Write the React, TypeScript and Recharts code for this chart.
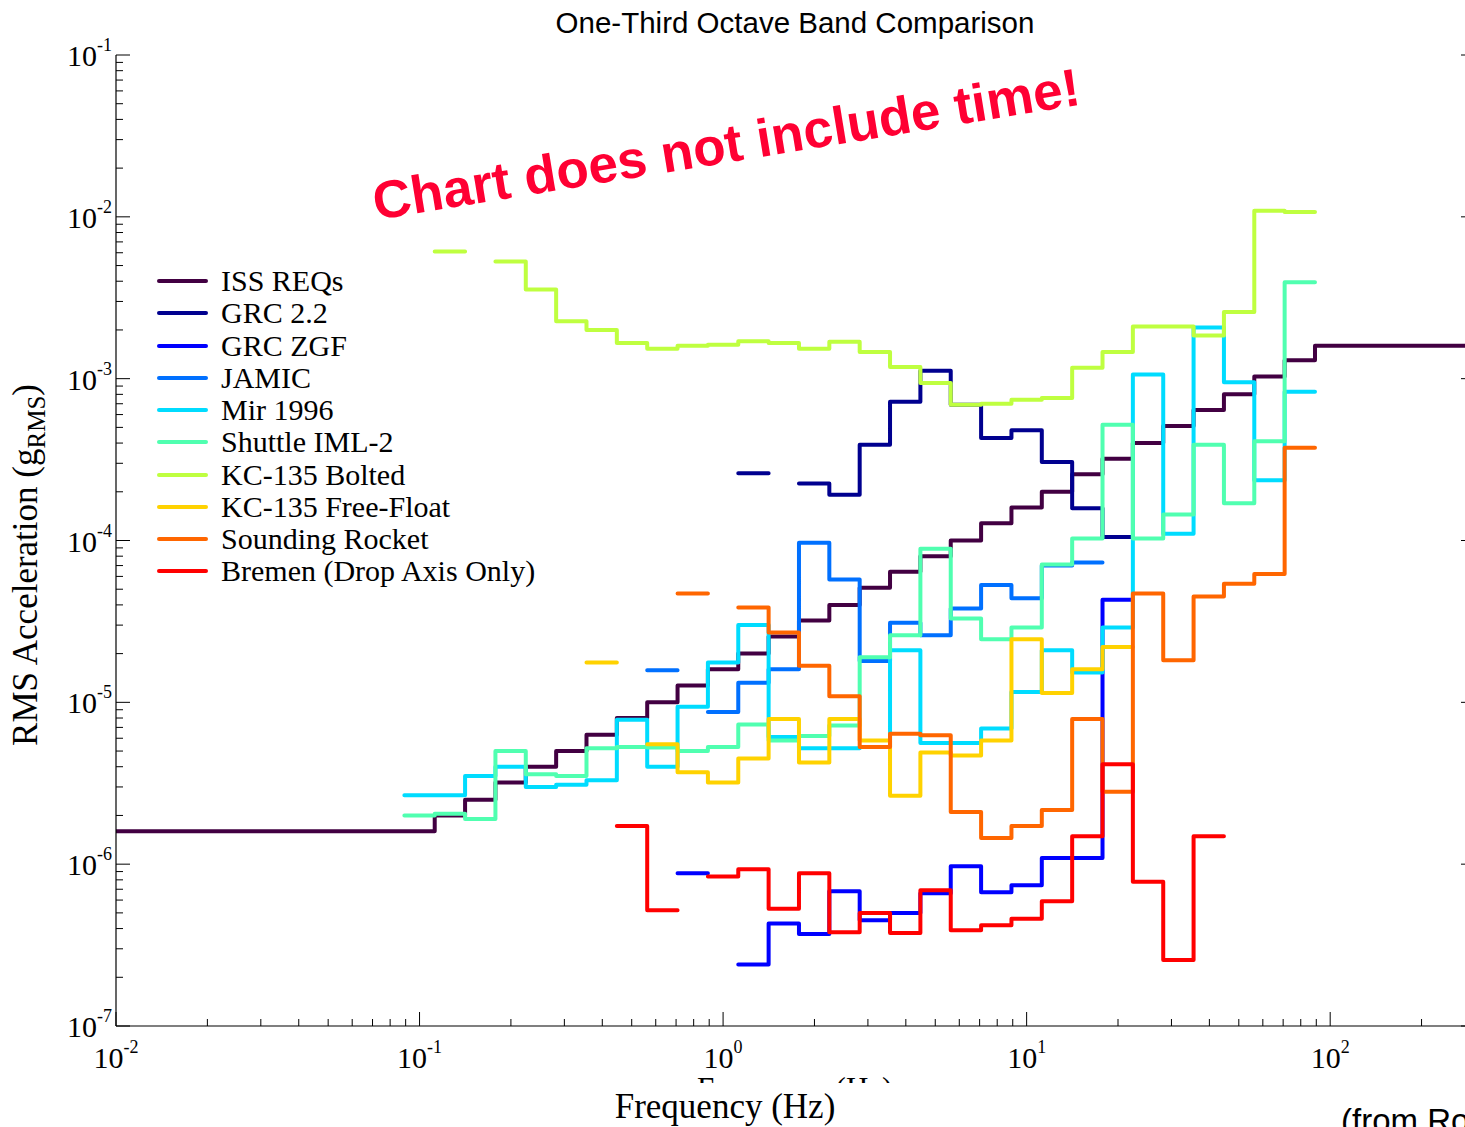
import React from "react";
import { LineChart, Line, XAxis, YAxis } from "recharts";

// One-third octave bands (nominal centre frequencies, Hz)
const BAND_CENTERS_HZ = [
  0.1, 0.125, 0.16, 0.2, 0.25, 0.315, 0.4, 0.5, 0.63, 0.8,
  1, 1.25, 1.6, 2, 2.5, 3.15, 4, 5, 6.3, 8,
  10, 12.5, 16, 20, 25, 31.5, 40, 50, 63, 80,
];
const FIRST_BAND_NUMBER = -10; // band n has centre 10^(n/10)

const X_MIN = 0.01;
const X_MAX = 300;
const Y_MIN = 1e-7;
const Y_MAX = 1e-1;
const X_DECADES = [0.01, 0.1, 1, 10, 100];
const Y_DECADES = [1e-7, 1e-6, 1e-5, 1e-4, 1e-3, 1e-2, 1e-1];
const MINOR_STEPS = [1, 2, 3, 4, 5, 6, 7, 8, 9];

type V = number | null;

// RMS acceleration per band (g_RMS); null = no data in band
const ISS_REQS: V[] = [
  1.6e-6, 2.0e-6, 2.5e-6, 3.2e-6, 4.0e-6, 5.0e-6, 6.3e-6, 8.0e-6, 1.0e-5, 1.27e-5,
  1.6e-5, 2.0e-5, 2.55e-5, 3.2e-5, 4.0e-5, 5.1e-5, 6.4e-5, 8.0e-5, 1.0e-4, 1.28e-4,
  1.6e-4, 2.0e-4, 2.57e-4, 3.2e-4, 4.0e-4, 5.1e-4, 6.4e-4, 8.0e-4, 1.03e-3, 1.3e-3,
];
const ISS_BELOW_BANDS = 1.6e-6;
const ISS_ABOVE_BANDS = 1.6e-3;

const GRC_22: V[] = [
  null, null, null, null, null, null, null, null, null, null,
  null, 2.6e-4, null, 2.25e-4, 1.92e-4, 3.9e-4, 7.2e-4, 1.12e-3, 6.9e-4, 4.3e-4,
  4.8e-4, 3.05e-4, 1.58e-4, 1.05e-4, null, null, null, null, null, null,
];
const GRC_ZGF: V[] = [
  null, null, null, null, null, null, null, null, null, 8.8e-7,
  null, 2.4e-7, 4.3e-7, 3.7e-7, 6.8e-7, 4.5e-7, 5.0e-7, 6.6e-7, 9.7e-7, 6.7e-7,
  7.4e-7, 1.09e-6, 1.09e-6, 4.3e-5, null, null, null, null, null, null,
];
const JAMIC: V[] = [
  null, null, null, null, null, null, null, null, 1.58e-5, null,
  8.7e-6, 1.32e-5, 1.6e-5, 9.7e-5, 5.75e-5, 1.8e-5, 3.1e-5, 2.6e-5, 3.8e-5, 5.3e-5,
  4.4e-5, 7.0e-5, 7.3e-5, null, null, null, null, null, null, null,
];
const MIR_1996: V[] = [
  2.67e-6, 2.67e-6, 3.5e-6, 4.0e-6, 3.0e-6, 3.1e-6, 3.3e-6, 7.8e-6, 4.0e-6, 9.4e-6,
  1.76e-5, 3.0e-5, 6.1e-6, 5.2e-6, 5.2e-6, 5.3e-6, 2.1e-5, 5.6e-6, 5.6e-6, 6.9e-6,
  1.16e-5, 2.1e-5, 1.53e-5, 2.9e-5, 1.06e-3, 1.1e-4, 2.07e-3, 9.5e-4, 2.36e-4, 8.3e-4,
];
const SHUTTLE_IML2: V[] = [
  2.0e-6, 2.05e-6, 1.9e-6, 5.0e-6, 3.6e-6, 3.5e-6, 5.2e-6, 5.3e-6, 5.25e-6, 5.0e-6,
  5.3e-6, 7.3e-6, 5.8e-6, 6.2e-6, 7.2e-6, 1.9e-5, 2.6e-5, 8.9e-5, 3.3e-5, 2.45e-5,
  2.9e-5, 7.1e-5, 1.03e-4, 5.2e-4, 1.03e-4, 1.45e-4, 3.9e-4, 1.7e-4, 4.1e-4, 3.94e-3,
];
const KC135_BOLTED: V[] = [
  null, 6.1e-3, null, 5.3e-3, 3.55e-3, 2.26e-3, 2.0e-3, 1.66e-3, 1.53e-3, 1.6e-3,
  1.62e-3, 1.7e-3, 1.66e-3, 1.53e-3, 1.69e-3, 1.46e-3, 1.18e-3, 9.4e-4, 6.9e-4, 7.0e-4,
  7.4e-4, 7.6e-4, 1.17e-3, 1.46e-3, 2.1e-3, 2.1e-3, 1.85e-3, 2.58e-3, 1.09e-2, 1.07e-2,
];
const KC135_FREE_FLOAT: V[] = [
  null, null, null, null, null, null, 1.76e-5, null, 5.5e-6, 3.7e-6,
  3.2e-6, 4.5e-6, 7.9e-6, 4.25e-6, 7.9e-6, 5.8e-6, 2.65e-6, 4.9e-6, 4.7e-6, 5.8e-6,
  2.45e-5, 1.14e-5, 1.6e-5, 2.2e-5, null, null, null, null, null, null,
];
const SOUNDING_ROCKET: V[] = [
  null, null, null, null, null, null, null, null, null, 4.7e-5,
  null, 3.85e-5, 2.7e-5, 1.68e-5, 1.09e-5, 5.3e-6, 6.4e-6, 6.25e-6, 2.1e-6, 1.45e-6,
  1.72e-6, 2.16e-6, 7.9e-6, 2.8e-6, 4.7e-5, 1.82e-5, 4.5e-5, 5.4e-5, 6.2e-5, 3.74e-4,
];
const BREMEN: V[] = [
  null, null, null, null, null, null, null, 1.72e-6, 5.2e-7, null,
  8.4e-7, 9.3e-7, 5.3e-7, 8.8e-7, 3.8e-7, 5.0e-7, 3.75e-7, 6.9e-7, 3.9e-7, 4.2e-7,
  4.6e-7, 5.9e-7, 1.49e-6, 4.15e-6, 7.8e-7, 2.56e-7, 1.49e-6, null, null, null,
];

type Pt = { f: number; v: number | null };

function bandEdges(i: number): [number, number] {
  const n = FIRST_BAND_NUMBER + i;
  return [Math.pow(10, (n - 0.5) / 10), Math.pow(10, (n + 0.5) / 10)];
}

function toSteps(values: V[], below?: number, above?: number): Pt[] {
  const pts: Pt[] = [];
  if (below != null) pts.push({ f: X_MIN, v: below });
  values.forEach((v, i) => {
    const [lo, hi] = bandEdges(i);
    if (v == null) pts.push({ f: BAND_CENTERS_HZ[i], v: null });
    else pts.push({ f: lo, v }, { f: hi, v });
  });
  if (above != null) {
    const [, hi] = bandEdges(values.length - 1);
    pts.push({ f: hi, v: above }, { f: X_MAX, v: above });
  }
  return pts;
}

const SERIES = [
  { name: "ISS REQs", color: "#420042", points: toSteps(ISS_REQS, ISS_BELOW_BANDS, ISS_ABOVE_BANDS) },
  { name: "GRC 2.2", color: "#00008F", points: toSteps(GRC_22) },
  { name: "GRC ZGF", color: "#0000FF", points: toSteps(GRC_ZGF) },
  { name: "JAMIC", color: "#0070FF", points: toSteps(JAMIC) },
  { name: "Mir 1996", color: "#00DCFF", points: toSteps(MIR_1996) },
  { name: "Shuttle IML-2", color: "#50FFB0", points: toSteps(SHUTTLE_IML2) },
  { name: "KC-135 Bolted", color: "#BFFF40", points: toSteps(KC135_BOLTED) },
  { name: "KC-135 Free-Float", color: "#FFD200", points: toSteps(KC135_FREE_FLOAT) },
  { name: "Sounding Rocket", color: "#FF6600", points: toSteps(SOUNDING_ROCKET) },
  { name: "Bremen (Drop Axis Only)", color: "#FF0000", points: toSteps(BREMEN) },
];

const X_TICKS = X_DECADES.flatMap((d) => MINOR_STEPS.map((m) => d * m)).filter((t) => t < X_MAX * 0.999);
const Y_TICKS = Y_DECADES.flatMap((d) => MINOR_STEPS.map((m) => d * m)).filter((t) => t <= Y_MAX * 1.0001);

const SERIF = "'Liberation Serif','Times New Roman',serif";
const SANS = "'Liberation Sans',Arial,Helvetica,sans-serif";
const MAJOR_LEN = 14;
const MINOR_LEN = 7;

function isMajor(v: number) {
  const l = Math.log10(v);
  return Math.abs(l - Math.round(l)) < 1e-6;
}

function makeTick(side: "bottom" | "top" | "left" | "right") {
  return (props: any) => {
    const { x, y, payload } = props;
    const v = payload?.value as number;
    if (v == null) return <g />;
    const major = isMajor(v);
    const len = major ? MAJOR_LEN : MINOR_LEN;
    let x2 = x;
    let y2 = y;
    if (side === "bottom") y2 = y - len;
    else if (side === "top") y2 = y + len;
    else if (side === "left") x2 = x + len;
    else x2 = x - len;
    const exp = String(Math.round(Math.log10(v)));
    let label: React.ReactNode = null;
    if (major && side === "bottom") {
      label = (
        <text x={x} y={y + 42} textAnchor="middle" fontFamily={SERIF} fontSize={30} fill="#000">
          10<tspan dy={-15} fontSize={18}>{exp}</tspan>
        </text>
      );
    } else if (major && side === "left") {
      label = (
        <text x={x - 4} y={y + 11} textAnchor="end" fontFamily={SERIF} fontSize={30} fill="#000">
          10<tspan dy={-15} fontSize={18}>{exp}</tspan>
        </text>
      );
    }
    return (
      <g>
        <line x1={x} y1={y} x2={x2} y2={y2} stroke="#000" strokeWidth={1} />
        {label}
      </g>
    );
  };
}

const AXIS_LINE = { stroke: "#000", strokeWidth: 1.2 };

function LegendBox() {
  return (
    <div style={{ position: "absolute", left: 150, top: 265, fontFamily: SERIF, fontSize: 30, color: "#000" }}>
      {SERIES.map((s) => (
        <div key={s.name} style={{ display: "flex", alignItems: "center", height: 32.25, lineHeight: "32.25px", whiteSpace: "nowrap" }}>
          <svg width={64} height={8} style={{ display: "block" }}>
            <line x1={9} y1={4} x2={56} y2={4} stroke={s.color} strokeWidth={4} strokeLinecap="round" />
          </svg>
          <span style={{ marginLeft: 7 }}>{s.name}</span>
        </div>
      ))}
    </div>
  );
}

export default function App() {
  return (
    <div style={{ position: "fixed", left: 0, top: 0, width: 1465, height: 1127, overflow: "hidden", background: "#fff" }}>
      <div style={{ position: "absolute", left: 0, top: 0 }}>
        <LineChart width={1480} height={1127} margin={{ top: 55, right: 0, bottom: 0, left: 0 }}>
          <XAxis
            dataKey="f"
            type="number"
            scale="log"
            domain={[X_MIN, X_MAX]}
            allowDataOverflow
            ticks={X_TICKS}
            interval={0}
            tickSize={0}
            tickMargin={0}
            tickLine={false}
            axisLine={AXIS_LINE}
            height={101}
            tick={makeTick("bottom")}
          />
          <XAxis
            xAxisId="top"
            orientation="top"
            dataKey="f"
            type="number"
            scale="log"
            domain={[X_MIN, X_MAX]}
            allowDataOverflow
            ticks={X_TICKS}
            interval={0}
            tickSize={0}
            tickMargin={0}
            tickLine={false}
            axisLine={AXIS_LINE}
            height={0}
            tick={makeTick("top")}
          />
          <YAxis
            type="number"
            scale="log"
            domain={[Y_MIN, Y_MAX]}
            allowDataOverflow
            ticks={Y_TICKS}
            interval={0}
            tickSize={0}
            tickMargin={0}
            tickLine={false}
            axisLine={AXIS_LINE}
            width={116}
            tick={makeTick("left")}
          />
          <YAxis
            yAxisId="right"
            orientation="right"
            type="number"
            scale="log"
            domain={[Y_MIN, Y_MAX]}
            allowDataOverflow
            ticks={Y_TICKS}
            interval={0}
            tickSize={0}
            tickMargin={0}
            tickLine={false}
            axisLine={AXIS_LINE}
            width={5}
            tick={makeTick("right")}
          />
          {SERIES.map((s) => (
            <Line
              key={s.name}
              data={s.points}
              dataKey="v"
              name={s.name}
              type="linear"
              stroke={s.color}
              strokeWidth={4}
              strokeLinecap="round"
              strokeLinejoin="round"
              dot={false}
              activeDot={false}
              connectNulls={false}
              isAnimationActive={false}
            />
          ))}
        </LineChart>
      </div>

      <LegendBox />

      <svg width={1465} height={1127} style={{ position: "absolute", left: 0, top: 0, pointerEvents: "none" }}>
        <defs>
          <clipPath id="strayClip">
            <rect x={680} y={1074} width={230} height={9} />
          </clipPath>
        </defs>
        <text x={795} y={33} textAnchor="middle" fontFamily={SANS} fontSize={29.5} fill="#000">
          One-Third Octave Band Comparison
        </text>
        <text
          x={376}
          y={220}
          transform="rotate(-9.3 376 220)"
          fontFamily={SANS}
          fontWeight="bold"
          fontSize={53}
          fill="#FF0033"
        >
          Chart does not include time!
        </text>
        <text transform="translate(37 565) rotate(-90)" textAnchor="middle" fontFamily={SERIF} fontSize={35} fill="#000">
          RMS Acceleration (g<tspan dy={8} fontSize={25}>RMS</tspan>
          <tspan dy={-8}>)</tspan>
        </text>
        <text x={725} y={1118} textAnchor="middle" fontFamily={SERIF} fontSize={35} fill="#000">
          Frequency (Hz)
        </text>
        <g clipPath="url(#strayClip)">
          <text x={697} y={1099} fontFamily={SERIF} fontSize={31} fill="#000">
            Frequency (Hz)
          </text>
        </g>
        <text x={1341} y={1132} fontFamily={SANS} fontSize={33} fill="#000">
          (from Ro
        </text>
      </svg>
    </div>
  );
}
